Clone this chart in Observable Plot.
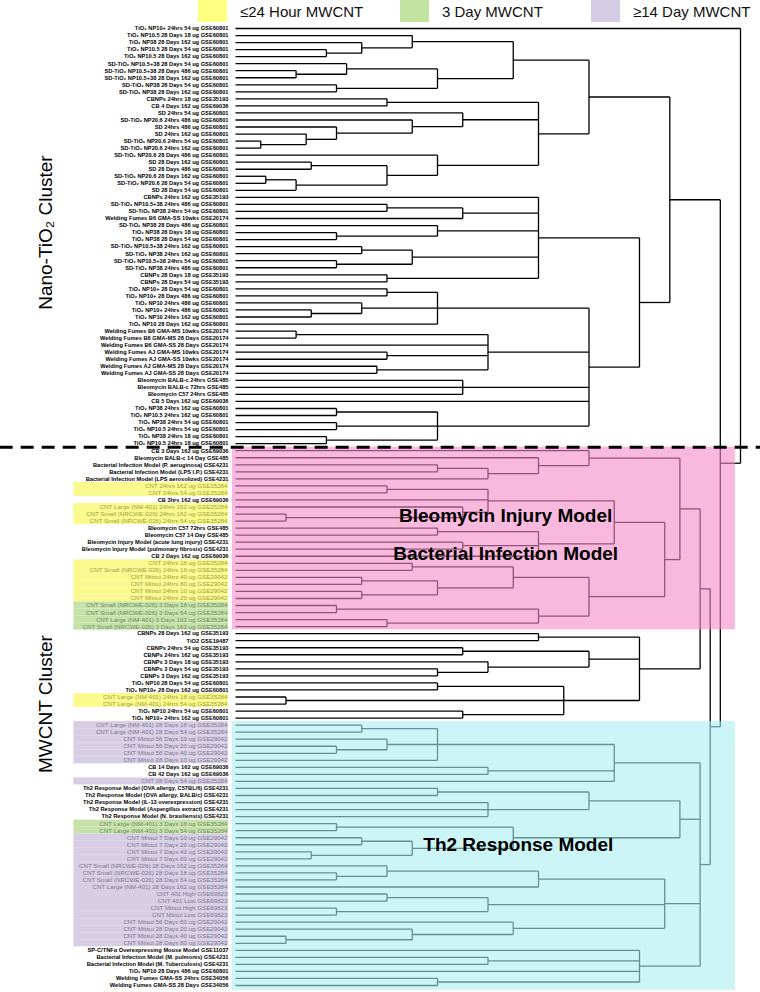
<!DOCTYPE html>
<html><head><meta charset="utf-8">
<script src="https://cdn.jsdelivr.net/npm/d3@7"></script>
<script src="https://cdn.jsdelivr.net/npm/@observablehq/plot@0.6"></script>
<style>
body{margin:0;background:#fff;font-family:"Liberation Sans",Arial,sans-serif;}
#legend{position:relative;height:24px;width:760px;}
.lg{position:absolute;top:0;height:22px;display:flex;align-items:center;font-size:15px;color:#111;}
.sw{width:29px;height:22px;margin-right:13px;flex:none}
#chart svg{display:block}
</style></head><body>
<div id="legend"></div>
<div id="chart"></div>
<script>
// ---------- data ----------
const labels = [
"TiO₂ NP10+ 24hrs 54 ug GSE60801","TiO₂ NP10.5 28 Days 18 ug GSE60801","TiO₂ NP38 28 Days 162 ug GSE60801",
"TiO₂ NP10.5 28 Days 54 ug GSE60801","TiO₂ NP10.5 28 Days 162 ug GSE60801","SD-TiO₂ NP10.5+38 28 Days 54 ug GSE60801",
"SD-TiO₂ NP10.5+38 28 Days 486 ug GSE60801","SD-TiO₂ NP10.5+38 28 Days 162 ug GSE60801","SD-TiO₂ NP38 28 Days 54 ug GSE60801",
"SD-TiO₂ NP38 28 Days 162 ug GSE60801","CBNPs 24hrs 18 ug GSE35193","CB 4 Days 162 ug GSE69036",
"SD 24hrs 54 ug GSE60801","SD-TiO₂ NP20.6 24hrs 486 ug GSE60801","SD 24hrs 486 ug GSE60801",
"SD 24hrs 162 ug GSE60801","SD-TiO₂ NP20.6 24hrs 54 ug GSE60801","SD-TiO₂ NP20.6 24hrs 162 ug GSE60801",
"SD-TiO₂ NP20.6 28 Days 486 ug GSE60801","SD 28 Days 162 ug GSE60801","SD 28 Days 486 ug GSE60801",
"SD-TiO₂ NP20.6 28 Days 162 ug GSE60801","SD-TiO₂ NP20.6 28 Days 54 ug GSE60801","SD 28 Days 54 ug GSE60801",
"CBNPs 24hrs 162 ug GSE35193","SD-TiO₂ NP10.5+38 24hrs 486 ug GSE60801","SD-TiO₂ NP38 24hrs 54 ug GSE60801",
"Welding Fumes B6 GMA-SS 10wks GSE20174","SD-TiO₂ NP38 28 Days 486 ug GSE60801","TiO₂ NP38 28 Days 18 ug GSE60801",
"TiO₂ NP38 28 Days 54 ug GSE60801","SD-TiO₂ NP10.5+38 24hrs 162 ug GSE60801","SD-TiO₂ NP38 24hrs 162 ug GSE60801",
"SD-TiO₂ NP10.5+38 24hrs 54 ug GSE60801","SD-TiO₂ NP38 24hrs 486 ug GSE60801","CBNPs 28 Days 18 ug GSE35193",
"CBNPs 28 Days 54 ug GSE35193","TiO₂ NP10+ 28 Days 54 ug GSE60801","TiO₂ NP10+ 28 Days 486 ug GSE60801",
"TiO₂ NP10 24hrs 486 ug GSE60801","TiO₂ NP10+ 24hrs 486 ug GSE60801","TiO₂ NP10 24hrs 162 ug GSE60801",
"TiO₂ NP10 28 Days 162 ug GSE60801","Welding Fumes B6 GMA-MS 10wks GSE20174","Welding Fumes B6 GMA-MS 28 Days GSE20174",
"Welding Fumes B6 GMA-SS 28 Days GSE20174","Welding Fumes AJ GMA-MS 10wks GSE20174","Welding Fumes AJ GMA-SS 10wks GSE20174",
"Welding Fumes AJ GMA-MS 28 Days GSE20174","Welding Fumes AJ GMA-SS 28 Days GSE20174","Bleomycin BALB-c 24hrs GSE485",
"Bleomycin BALB-c 72hrs GSE485","Bleomycin C57 24hrs GSE485","CB 5 Days 162 ug GSE69036",
"TiO₂ NP38 24hrs 162 ug GSE60801","TiO₂ NP10.5 24hrs 162 ug GSE60801","TiO₂ NP38 24hrs 54 ug GSE60801",
"TiO₂ NP10.5 24hrs 54 ug GSE60801","TiO₂ NP38 24hrs 18 ug GSE60801","TiO₂ NP10.5 24hrs 18 ug GSE60801",
"CB 3 Days 162 ug GSE69036","Bleomycin BALB-c 14 Day GSE485","Bacterial Infection Model (P. aeruginosa) GSE4231",
"Bacterial Infection Model (LPS I.P.) GSE4231","Bacterial Infection Model (LPS aerosolized) GSE4231","CNT 24hrs 162 ug GSE35284",
"CNT 24hrs 54 ug GSE35284","CB 3hrs 162 ug GSE69036","CNT Large (NM-401) 24hrs 162 ug GSE35284",
"CNT Small (NRCWE-026) 24hrs 162 ug GSE35284","CNT Small (NRCWE-026) 24hrs 54 ug GSE35284","Bleomycin C57 72hrs GSE485",
"Bleomycin C57 14 Day GSE485","Bleomycin Injury Model (acute lung injury) GSE4231","Bleomycin Injury Model (pulmonary fibrosis) GSE4231",
"CB 2 Days 162 ug GSE69036","CNT 24hrs 18 ug GSE35284","CNT Small (NRCWE-026) 24hrs 18 ug GSE35284",
"CNT Mitsui 24hrs 40 ug GSE29042","CNT Mitsui 24hrs 80 ug GSE29042","CNT Mitsui 24hrs 10 ug GSE29042",
"CNT Mitsui 24hrs 20 ug GSE29042","CNT Small (NRCWE-026) 3 Days 18 ug GSE35284","CNT Small (NRCWE-026) 3 Days 54 ug GSE35284",
"CNT Large (NM-401) 3 Days 162 ug GSE35284","CNT Small (NRCWE-026) 3 Days 162 ug GSE35284","CBNPs 28 Days 162 ug GSE35193",
"TiO2 GSE19487","CBNPs 24hrs 54 ug GSE35193","CBNPs 24hrs 162 ug GSE35193",
"CBNPs 3 Days 18 ug GSE35193","CBNPs 3 Days 54 ug GSE35193","CBNPs 3 Days 162 ug GSE35193",
"TiO₂ NP10 28 Days 54 ug GSE60801","TiO₂ NP10+ 28 Days 162 ug GSE60801","CNT Large (NM-401) 24hrs 18 ug GSE35284",
"CNT Large (NM-401) 24hrs 54 ug GSE35284","TiO₂ NP10 24hrs 54 ug GSE60801","TiO₂ NP10+ 24hrs 162 ug GSE60801",
"CNT Large (NM-401) 28 Days 18 ug GSE35284","CNT Large (NM-401) 28 Days 54 ug GSE35284","CNT Mitsui 56 Days 10 ug GSE29042",
"CNT Mitsui 56 Days 20 ug GSE29042","CNT Mitsui 56 Days 40 ug GSE29042","CNT Mitsui 28 Days 10 ug GSE29042",
"CB 14 Days 162 ug GSE69036","CB 42 Days 162 ug GSE69036","CNT 28 Days 54 ug GSE35284",
"Th2 Response Model (OVA allergy, C57BL/6) GSE4231","Th2 Response Model (OVA allergy, BALB/c) GSE4231","Th2 Response Model (IL-13 overexpression) GSE4231",
"Th2 Response Model (Aspergillus extract) GSE4231","Th2 Response Model (N. brasiliensis) GSE4231","CNT Large (NM-401) 3 Days 18 ug GSE35284",
"CNT Large (NM-401) 3 Days 54 ug GSE35284","CNT Mitsui 7 Days 10 ug GSE29042","CNT Mitsui 7 Days 20 ug GSE29042",
"CNT Mitsui 7 Days 40 ug GSE29042","CNT Mitsui 7 Days 80 ug GSE29042","CNT Small (NRCWE-026) 28 Days 162 ug GSE35284",
"CNT Small (NRCWE-026) 28 Days 18 ug GSE35284","CNT Small (NRCWE-026) 28 Days 54 ug GSE35284","CNT Large (NM-401) 28 Days 162 ug GSE35284",
"CNT 401 High GSE69823","CNT 401 Low GSE69823","CNT Mitsui High GSE69823",
"CNT Mitsui Low GSE69823","CNT Mitsui 56 Days 80 ug GSE29042","CNT Mitsui 28 Days 20 ug GSE29042",
"CNT Mitsui 28 Days 40 ug GSE29042","CNT Mitsui 28 Days 80 ug GSE29042","SP-C/TNFα Overexpressing Mouse Model GSE11037",
"Bacterial Infection Model (M. pulmonis) GSE4231","Bacterial Infection Model (M. Tuberculosis) GSE4231","TiO₂ NP10 28 Days 486 ug GSE60801",
"Welding Fumes GMA-SS 24hrs GSE34056","Welding Fumes GMA-SS 28 Days GSE34056"
];
const yellowRows = [65,66,68,69,70,76,77,78,79,80,81,95,96];
const greenRows  = [82,83,84,85,113,114];
const purpleRows = [99,100,101,102,103,104,107,115,116,117,118,119,120,121,122,123,124,125,126,127,128,129,130];

const legendItems = ["≤24 Hour MWCNT","3 Day MWCNT","≥14 Day MWCNT"];
const legendColors = ["#ffff80","#c3e3a0","#d5cce6"];
const rowColors = {yellow:"#fafa8e", green:"#c6e2a8", purple:"#d7cee5"};
const rowTextColors = {yellow:"#a3a23e", green:"#708a68", purple:"#7e7a92"};

// dendrogram merges: [height, ...children]; leaves are row indices
const treeA = [55, [35,1,[25,2,[18,3,4]]], [40,[22,5,[12,6,7]],[20,8,9]]];
const treeB = [60, [30,10,11], [45,12,[35,13,[20,14,[14,15,[5,16,17]]]]], [40,18,[30,[15,19,20],[12,[6,21,22],23]]]];
const treeC = [60, 24, [45,[30,25,26],27], [40,28,[20,29,30]], [35,[25,31,32],[20,33,34]], [30,35,36]];
const treeD = [70, [40,[30,37,38],[25,39,[15,40,41]],42], [50,[12,43,44],45,[30,46,47],[28,48,49]], [45,50,51,52], 53, [40,[20,54,55],[20,56,57],[18,58,59]]];
const treePink = [88, [70,60,[60,61,[50,[40,62,63],64]]], [85, [75,[50,[30,65,66],67,[45,68,[10,69,70]]],[60,[40,71,72],[45,73,74],75]], [70,[55,[35,76,77],[40,[25,78,79],[25,80,81]]],[60,[20,82,83],[30,84,85]]]]];
const treeMid = [80, [60,86,87], [70,[45,88,89],[50,90,[40,91,92]]], [65,[40,93,94],[10,95,96],[45,97,98]]];
const treeCyanA = [75,[40,[25,99,100],[30,101,[20,102,103]],104],[50,105,106],107];
const treeCyanB = [88,[70,[40,108,109],[50,110,111,112]],[55,[20,113,114],[35,[25,115,116],[15,117,118]]]];
const treeCyanC = [85,[60,[30,119,[20,120,121]],122],[50,[30,123,124],[20,125,126]],[55,127,[35,128,[10,129,130]]]];
const treeCyanD = [80,131,[50,132,133],134,[40,135,136]];
const treeTop = [86, [70, treeA, treeB], [80, treeC, treeD]];
const treeBottom = [94, [92, treePink, treeMid], [92, treeCyanA, treeCyanB, treeCyanC, treeCyanD]];
const tree = [100, 0, [96, treeTop, treeBottom]];

const clusterNames = ["Nano-TiO₂ Cluster","MWCNT Cluster"];
const modelNames = ["Bleomycin Injury Model","Bacterial Infection Model","Th2 Response Model"];

// ---------- legend ----------
const lg = document.getElementById("legend");
const legendX = [198, 400, 591];
legendItems.forEach((t,i)=>{
  const d = document.createElement("div"); d.className="lg"; d.style.left=legendX[i]+"px";
  d.innerHTML = `<div class="sw" style="background:${legendColors[i]}"></div><span>${t}</span>`;
  lg.appendChild(d);
});

// ---------- dendrogram geometry ----------
const root = d3.hierarchy(tree, d => Array.isArray(d) ? d.slice(1) : null);
root.eachAfter(n => {
  n.h = Array.isArray(n.data) ? n.data[0] : 0;
  n.yy = n.children ? (n.children[0].yy + n.children[n.children.length-1].yy)/2 : n.data;
});
const segs = [];
root.each(n => {
  if (!n.children) return;
  const ys = n.children.map(c=>c.yy);
  segs.push({x1:n.h, x2:n.h, y1:d3.min(ys), y2:d3.max(ys)});
  n.children.forEach(c => segs.push({x1:c.h, x2:n.h, y1:c.yy, y2:c.yy}));
});

const rows = labels.map((t,i)=>({i, t,
  g: yellowRows.includes(i) ? "yellow" : greenRows.includes(i) ? "green" : purpleRows.includes(i) ? "purple" : null}));
const plainRows = rows.filter(r=>!r.g);
const cntRows = rows.filter(r=>r.g);

// x: distance units (0 = leaves, 100 = root); y: row index
const XL = -32, XR = -1.4;   // label box extent in distance units
const plot = Plot.plot({
  width: 760, height: 968,
  x: {domain:[0,100], range:[235,740], axis:null},
  y: {domain:[0,136], range:[4,961], axis:null},
  color: {type:"identity"},
  marks: [
    Plot.rect(cntRows, {x1:XL, x2:XR, y1:d=>d.i-0.5, y2:d=>d.i+0.5, fill:d=>rowColors[d.g]}),
    Plot.link(segs, {x1:"x1", x2:"x2", y1:"y1", y2:"y2", stroke:"#000", strokeWidth:1.3}),
    Plot.rect([{a:59.5,b:85.45}], {x1:-0.6, x2:99, y1:"a", y2:"b", fill:"rgb(245,137,198)", fillOpacity:0.6}),
    Plot.rect([{a:98.5,b:136.7}], {x1:-0.6, x2:99, y1:"a", y2:"b", fill:"rgb(170,238,242)", fillOpacity:0.6}),
    Plot.text(plainRows, {ariaLabel:"leaf-labels", x:0, dx:-7, y:"i", text:"t", textAnchor:"end",
      fontWeight:"bold", fontSize:5.7, fill:"#000", fontFamily:"Liberation Sans, Arial"}),
    Plot.text(cntRows, {ariaLabel:"cnt-labels", x:0, dx:-8, y:"i", text:"t", textAnchor:"end",
      fontSize:6.2, fill:d=>rowTextColors[d.g], fontFamily:"Liberation Sans, Arial"}),
    Plot.ruleY([59.5], {x1:-46.6, x2:104, stroke:"#000", strokeWidth:3, strokeDasharray:"13,8"}),
    Plot.text([{t:modelNames[0], y:69.2},{t:modelNames[1], y:74.6}], {x:53.5, y:"y", text:"t",
      fontSize:19, fontWeight:"bold", fill:"#000", fontFamily:"Liberation Sans, Arial"}),
    Plot.text([{t:modelNames[2], y:116}], {x:56, y:"y", text:"t",
      fontSize:19, fontWeight:"bold", fill:"#000", fontFamily:"Liberation Sans, Arial"}),
    Plot.text([{t:clusterNames[0], y:29},{t:clusterNames[1], y:96}], {x:-37.6, y:"y", text:"t", rotate:-90,
      fontSize:19, fill:"#000", fontFamily:"Liberation Sans, Arial"})
  ]
});
document.getElementById("chart").appendChild(plot);

// italic accession ids
const upright = /GSE(485|4231)$/;
d3.select(plot).selectAll('g[aria-label="leaf-labels"] text').each(function(){
  const t = this.textContent, k = t.lastIndexOf(" GSE");
  if (k < 0 || upright.test(t)) return;
  const s = d3.select(this); s.text(null);
  s.append("tspan").text(t.slice(0,k+1));
  s.append("tspan").attr("font-style","italic").text(t.slice(k+1));
});
</script></body></html>
